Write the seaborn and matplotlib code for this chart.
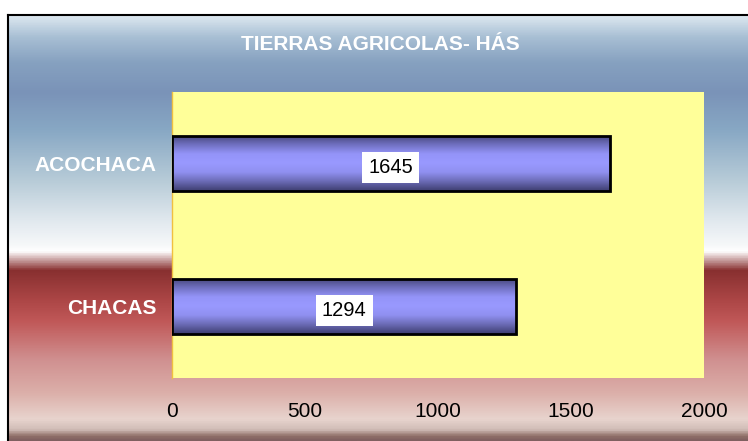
import numpy as np
import pandas as pd
import matplotlib.pyplot as plt
import seaborn as sns
from matplotlib.colors import LinearSegmentedColormap

# Data
categories = ['ACOCHACA', 'CHACAS']
hectares = [1645, 1294]
title = 'TIERRAS AGRICOLAS- HÁS'

df = pd.DataFrame({'zona': categories, 'has': hectares})

sns.set_style('white')
plt.rcParams['font.family'] = ['Liberation Sans', 'DejaVu Sans']

fig = plt.figure(figsize=(7.48, 4.41), dpi=100)
fig.patch.set_facecolor('white')

# background panel with vertical gradient (blue sky -> white -> red band -> pink)
bg = fig.add_axes([8 / 748, 0, 1 - 8 / 748, 1 - 15 / 441])
stops = [(0.00, '#dde8f0'), (0.05, '#a8bfd4'), (0.11, '#86a1c0'), (0.18, '#7a93b8'),
         (0.27, '#88a8c4'), (0.39, '#b8ccd8'), (0.48, '#e0e8ee'), (0.54, '#f6f8f9'),
         (0.555, '#ffffff'), (0.575, '#c8a0a0'), (0.60, '#883030'), (0.67, '#ac4646'),
         (0.72, '#c05858'), (0.81, '#d09090'), (0.89, '#dcb0aa'), (0.95, '#e8d4ce'),
         (0.975, '#d0bcb6'), (0.99, '#907068'), (1.00, '#806060')]
bg_cmap = LinearSegmentedColormap.from_list('bg', stops)
grad = np.linspace(0, 1, 512).reshape(-1, 1)
bg.imshow(grad, aspect='auto', cmap=bg_cmap, extent=[0, 1, 1, 0])
bg.set_xlim(0, 1)
bg.set_ylim(1, 0)
bg.set_xticks([])
bg.set_yticks([])
for side in ['right', 'bottom']:
    bg.spines[side].set_visible(False)
for side in ['left', 'top']:
    bg.spines[side].set_color('black')
    bg.spines[side].set_linewidth(1.5)

fig.text(380 / 748, 1 - 44 / 441, title, ha='center', va='center',
         color='white', fontsize=15, fontweight='bold')

ax = fig.add_axes([172 / 748, 1 - 378 / 441, (704 - 172) / 748, (378 - 92) / 441])
ax.set_facecolor('#ffff99')
sns.barplot(data=df, x='has', y='zona', orient='h', width=0.39,
            color='#9999ff', edgecolor='black', linewidth=2, ax=ax)

# cylinder-like shading inside each bar
bar_cmap = LinearSegmentedColormap.from_list(
    'bar', ['#45457a', '#7070c0', '#9494f8', '#9999ff', '#9090f0', '#6a6ab4', '#3e3e70'])
shade = np.linspace(0, 1, 128).reshape(-1, 1)
for patch in ax.patches:
    x0, y0 = patch.get_x(), patch.get_y()
    w, h = patch.get_width(), patch.get_height()
    im = ax.imshow(shade, aspect='auto', cmap=bar_cmap,
                   extent=[x0, x0 + w, y0 + h, y0], zorder=patch.get_zorder() - 0.1)
    im.set_clip_path(patch)
    patch.set_facecolor('none')
    patch.set_zorder(3)

for i, v in enumerate(hectares):
    ax.text(v / 2, i + 0.03, str(v), ha='center', va='center', fontsize=14.5,
            color='black', zorder=5,
            bbox=dict(boxstyle='square,pad=0.3', facecolor='white', edgecolor='none'))

ax.set_xlim(0, 2000)
ax.set_ylim(1.5, -0.5)
ax.set_xticks([0, 500, 1000, 1500, 2000])
ax.set_xlabel('')
ax.set_ylabel('')
ax.tick_params(axis='x', length=0, pad=17, labelsize=15, labelcolor='black')
ax.tick_params(axis='y', length=0, pad=11, labelsize=15, labelcolor='white')
for lbl in ax.get_yticklabels():
    lbl.set_fontweight('bold')
for side in ['top', 'right', 'bottom']:
    ax.spines[side].set_visible(False)
ax.spines['left'].set_color('#f0c040')
ax.spines['left'].set_linewidth(1)

fig.savefig('out.png', dpi=100)
